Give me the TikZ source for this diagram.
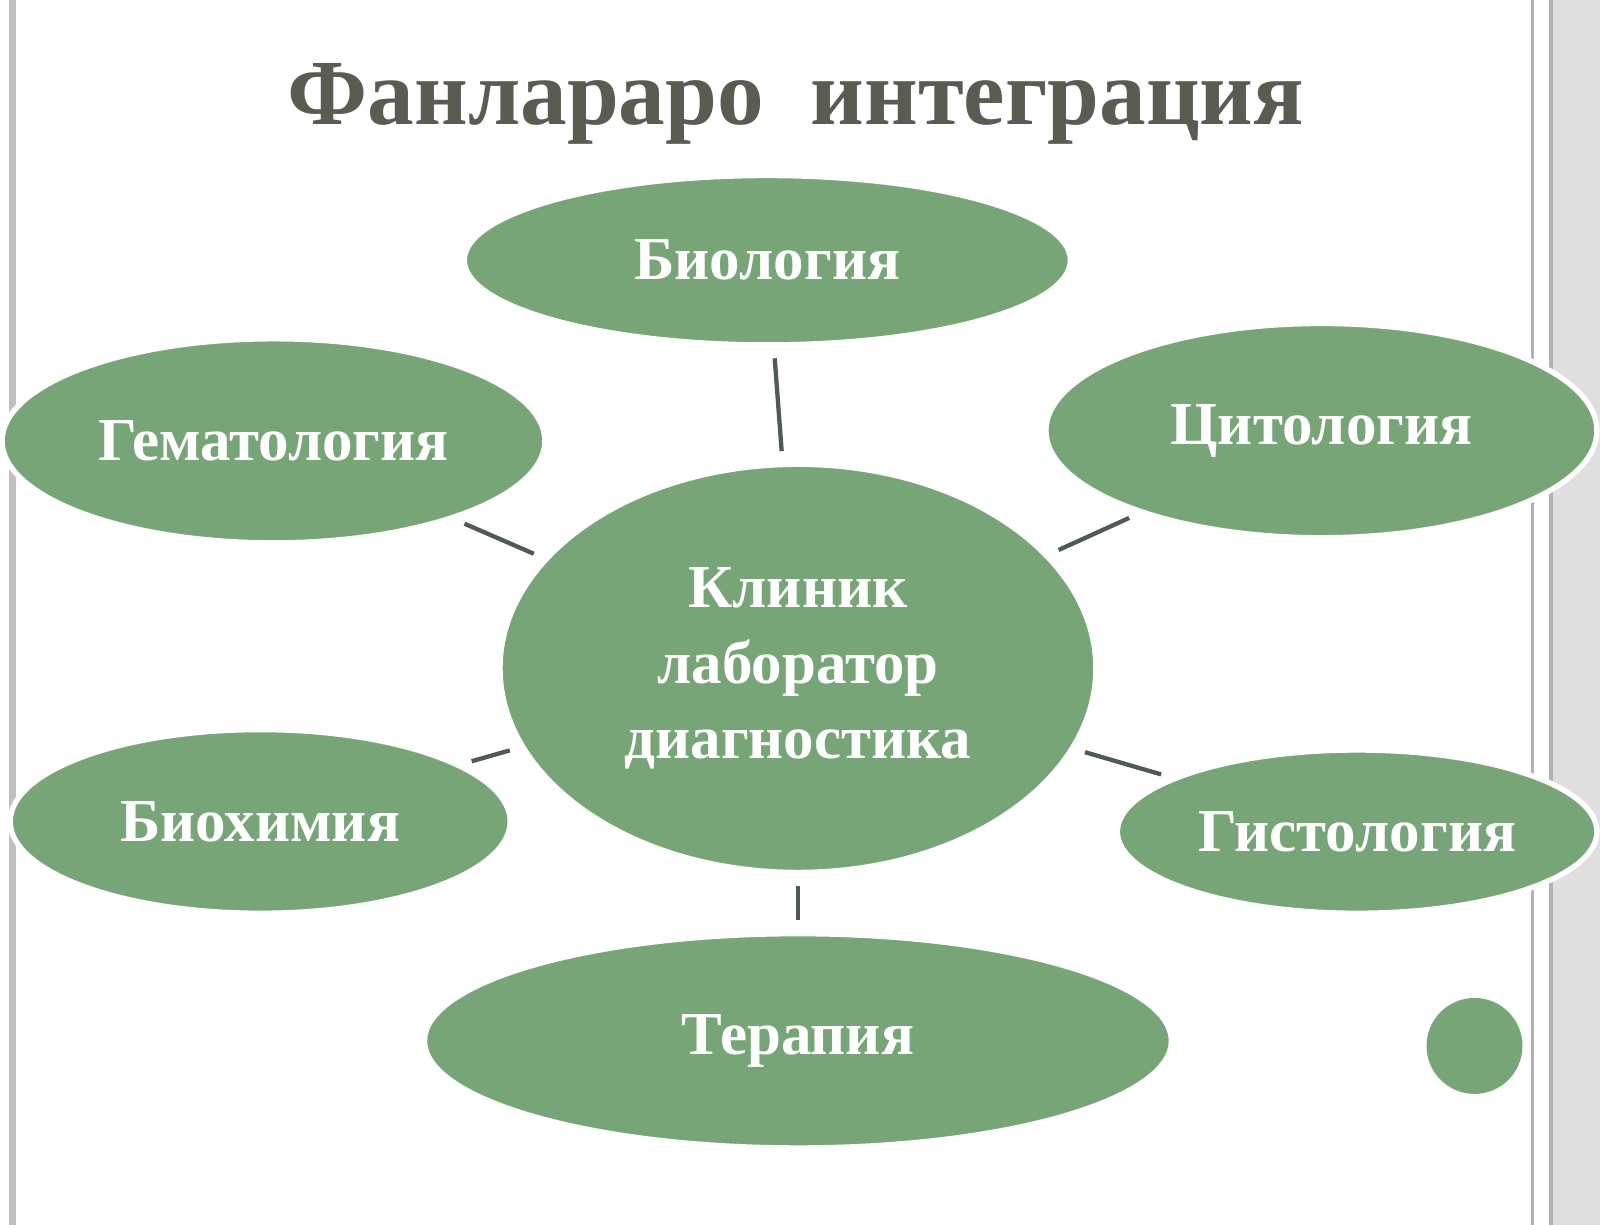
\documentclass[tikz,border=0pt]{standalone}
\usepackage{fontspec}
\setmainfont{Liberation Serif}
\usetikzlibrary{shapes.geometric,backgrounds}
\definecolor{leaf}{RGB}{120,165,120}
\definecolor{titlegray}{RGB}{90,92,82}
\definecolor{edgegray}{RGB}{80,90,85}
\begin{document}
\begin{tikzpicture}[
  show background rectangle,
  background rectangle/.style={fill=white},
  topic/.style={ellipse,fill=leaf,draw=white,line width=1.5pt,inner sep=0pt,
    text=white,font=\fontsize{17}{21}\selectfont\bfseries,align=center},
  link/.style={draw=edgegray,line width=1.2pt,shorten >=3pt,shorten <=3pt},
  ]
  \useasboundingbox (0,0) rectangle (15.68,12);
  % frame lines
  \draw[gray!50,line width=2pt] (0.12,0) -- (0.12,12);
  \fill[gray!25] (15.2,0) rectangle (15.68,12);
  \draw[gray!60,line width=1pt] (15.02,0) -- (15.02,12);
  \draw[gray!60,line width=1pt] (15.2,0) -- (15.2,12);

  \node (title) [text=titlegray,font=\fontsize{26}{30}\selectfont\bfseries] at (7.8,10.98) {Фанлараро\ \ интеграция};

  \node (center) [topic,minimum width=5.84cm,minimum height=4.0cm] at (7.82,5.45) {Клиник\\лаборатор\\диагностика};
  \node (bio)   [topic,minimum width=5.94cm,minimum height=1.66cm] at (7.52,9.45) {Биология};
  \node (hemat) [topic,minimum width=5.32cm,minimum height=2.0cm] at (2.68,7.68) {Гематология};
  \node (cyto)  [topic,minimum width=5.4cm,minimum height=2.1cm] at (12.95,7.78) {Цитология};
  \node (chem)  [topic,minimum width=4.9cm,minimum height=1.8cm] at (2.55,3.95) {Биохимия};
  \node (histo) [topic,minimum width=4.7cm,minimum height=1.6cm] at (13.3,3.85) {Гистология};
  \node (thera) [topic,minimum width=7.32cm,minimum height=2.1cm] at (7.82,1.8) {Терапия};
  \node (dot) [circle,fill=leaf,minimum size=0.94cm] at (14.45,1.75) {};

  \draw[link] (center) -- (bio);
  \draw[link] (center) -- (hemat);
  \draw[link] (center) -- (cyto);
  \draw[link] (center) -- (chem);
  \draw[link] (center) -- (histo);
  \draw[link] (center) -- (thera);
\end{tikzpicture}
\end{document}
